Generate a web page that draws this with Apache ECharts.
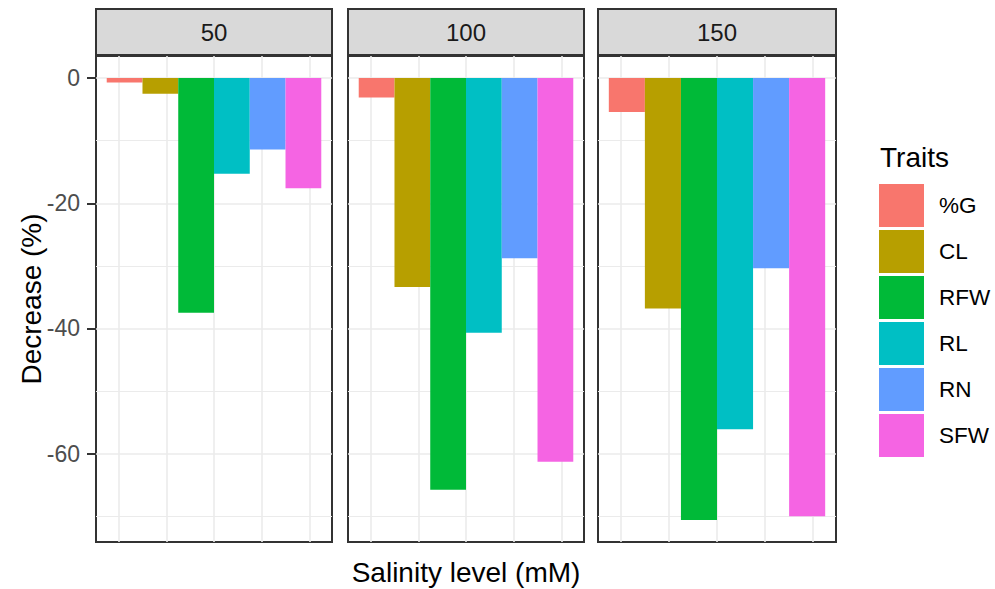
<!DOCTYPE html>
<html>
<head>
<meta charset="utf-8">
<script src="https://cdn.jsdelivr.net/npm/echarts@6/dist/echarts.min.js"></script>
<style>
html,body{margin:0;padding:0;background:#fff;}
#chart{width:995px;height:589px;}
</style>
</head>
<body>
<div id="chart"></div>
<script>
// ---- data ----
const levels = ['50', '100', '150'];
const traits = ['%G', 'CL', 'RFW', 'RL', 'RN', 'SFW'];
const values50  = [-0.7, -2.5, -37.5, -15.3, -11.4, -17.6];
const values100 = [-3.1, -33.4, -65.8, -40.7, -28.8, -61.3];
const values150 = [-5.4, -36.8, -70.6, -56.1, -30.4, -70.0];
const yTicks = [-60, -40, -20, 0];
const yMinorTicks = [-70, -50, -30, -10];
const xGridTicks = [-0.4, -0.2, 0, 0.2, 0.4];
const traitColors = ['#F8766D', '#B79F00', '#00BA38', '#00BFC4', '#619CFF', '#F564E3'];

const panelValues = [values50, values100, values150];

// ---- layout ----
const panels = [
  { left: 96, width: 236 },
  { left: 348, width: 236 },
  { left: 598, width: 238 }
];
const panelTop = 56, panelBottom = 542, stripTop = 9, stripBottom = 55;

const allVals = [].concat(values50, values100, values150, [0]);
const dMin = Math.min.apply(null, allVals), dMax = Math.max.apply(null, allVals);
const pad = (dMax - dMin) * 0.05;
const yMin = dMin - pad, yMax = dMax + pad;

const grids = [], xAxes = [], yAxes = [], series = [], graphics = [];
const font = 'Liberation Sans, Arial, sans-serif';

panels.forEach((p, k) => {
  grids.push({
    left: p.left, top: panelTop, width: p.width, height: panelBottom - panelTop,
    show: true, borderColor: '#333333', borderWidth: 2, backgroundColor: '#ffffff',
    containLabel: false
  });
  // category axis for bars
  xAxes.push({
    type: 'category', gridIndex: k, data: [levels[k]],
    axisLine: { show: false, onZero: false }, axisTick: { show: false }, axisLabel: { show: false },
    splitLine: { show: false }
  });
  // continuous helper axis for vertical grid lines
  xAxes.push({
    type: 'value', gridIndex: k, min: -0.495, max: 0.495,
    axisLine: { show: false, onZero: false },
    axisTick: { show: false, customValues: xGridTicks },
    axisLabel: { show: false, customValues: xGridTicks },
    splitLine: { show: true, lineStyle: { color: '#EBEBEB', width: 1.6 } }
  });
  yAxes.push({
    type: 'value', gridIndex: k, min: yMin, max: yMax, position: 'left',
    axisLine: { show: false, onZero: false },
    axisTick: { show: k === 0, customValues: yTicks, length: 9, lineStyle: { color: '#333333', width: 2 } },
    axisLabel: { show: k === 0, customValues: yTicks, margin: 16, fontSize: 23, color: '#4D4D4D', fontFamily: font },
    splitLine: { show: true, lineStyle: { color: '#EBEBEB', width: 1.6 } }
  });
  yAxes.push({
    type: 'value', gridIndex: k, min: yMin, max: yMax, position: 'left',
    axisLine: { show: false, onZero: false },
    axisTick: { show: false, customValues: yMinorTicks },
    axisLabel: { show: false, customValues: yMinorTicks },
    splitLine: { show: true, lineStyle: { color: '#EBEBEB', width: 1.2 } }
  });
  traits.forEach((t, i) => {
    series.push({
      type: 'bar', name: t, xAxisIndex: 2 * k, yAxisIndex: 2 * k,
      data: [panelValues[k][i]],
      barGap: '0%', barCategoryGap: '9.09%',
      itemStyle: { color: traitColors[i] },
      emphasis: { disabled: true },
      animation: false
    });
  });
  // strip
  graphics.push({
    type: 'rect', shape: { x: p.left, y: stripTop, width: p.width, height: stripBottom - stripTop },
    style: { fill: '#D9D9D9', stroke: '#333333', lineWidth: 2 }, z: 10
  });
  graphics.push({
    type: 'text', x: p.left + p.width / 2, y: (stripTop + stripBottom) / 2,
    style: { text: levels[k], fill: '#1A1A1A', font: '24px ' + font, textAlign: 'center', textVerticalAlign: 'middle' }, z: 11
  });
});

graphics.push({
  type: 'text', x: (panels[0].left + panels[2].left + panels[2].width) / 2, y: 572,
  style: { text: 'Salinity level (mM)', fill: '#000000', font: '28px ' + font, textAlign: 'center', textVerticalAlign: 'middle' }
});
graphics.push({
  type: 'text', x: 31, y: (panelTop + panelBottom) / 2, rotation: Math.PI / 2,
  style: { text: 'Decrease (%)', fill: '#000000', font: '28px ' + font, textAlign: 'center', textVerticalAlign: 'middle' }
});
graphics.push({
  type: 'text', x: 880, y: 157,
  style: { text: 'Traits', fill: '#000000', font: '28px ' + font, textAlign: 'left', textVerticalAlign: 'middle' }
});

const chart = echarts.init(document.getElementById('chart'), null, { renderer: 'svg' });
chart.setOption({
  animation: false,
  backgroundColor: '#ffffff',
  grid: grids,
  xAxis: xAxes,
  yAxis: yAxes,
  series: series,
  legend: {
    data: traits, orient: 'vertical', left: 874, top: 179,
    itemWidth: 45, itemHeight: 43, itemGap: 3, icon: 'rect',
    selectedMode: false,
    textStyle: { fontSize: 22.5, color: '#000000', fontFamily: font, padding: [0, 0, 0, 10] }
  },
  graphic: graphics
});
</script>
</body>
</html>
